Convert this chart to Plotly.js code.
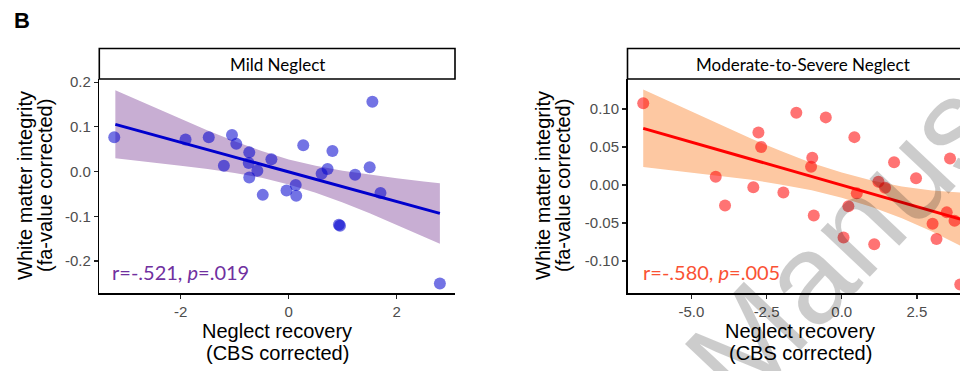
<!DOCTYPE html>
<html>
<head>
<meta charset="utf-8">
<script src="https://cdn.plot.ly/plotly-3.0.1.min.js"></script>
<style>
html,body{margin:0;padding:0;overflow:hidden;background:#fff;}
#chart{width:1000px;height:371px;}
</style>
</head>
<body>
<div id="chart"></div>
<script>
// ---- Data ----
// Panel 1: Mild Neglect
const mildX = [-3.23,-1.91,-1.48,-1.05,-0.97,-1.20,-0.73,-0.74,-0.73,-0.58,-0.48,-0.32,-0.04,0.13,0.14,0.27,0.61,0.72,0.81,0.93,0.95,1.23,1.50,1.55,1.70,2.80];
const mildY = [0.077,0.072,0.077,0.082,0.062,0.013,0.043,0.019,-0.013,0.002,-0.052,0.0275,-0.042,-0.030,-0.054,0.059,-0.005,0.006,0.046,-0.119,-0.121,-0.007,0.010,0.156,-0.048,-0.250];
const mildFitX = [-3.21,-2.5,-2,-1.5,-1,-0.5,0,0.5,1,1.5,2,2.5,2.8];
const mildFitY = [0.1056,0.0821,0.0655,0.0490,0.0324,0.0159,-0.0007,-0.0172,-0.0338,-0.0503,-0.0669,-0.0834,-0.0933];
const mildHi  = [0.182,0.144,0.118,0.092,0.068,0.046,0.027,0.013,0.002,-0.007,-0.015,-0.022,-0.026];
const mildLo  = [0.030,0.020,0.013,0.006,-0.003,-0.014,-0.029,-0.047,-0.069,-0.093,-0.119,-0.145,-0.161];
const mildStat = 'r=-.521, <i>p</i>=.019';
const mildTitle = 'Mild Neglect';

// Panel 2: Moderate-to-Severe Neglect
const sevX = [-6.60,-4.19,-3.88,-2.94,-2.77,-2.68,-1.94,-1.51,-0.98,-1.02,-0.93,-0.53,0.06,0.22,0.42,0.50,1.08,1.22,1.44,1.74,2.47,3.02,3.15,3.49,3.60,3.75,3.94];
const sevY = [0.1075,0.011,-0.027,-0.003,0.069,0.050,-0.010,0.095,0.036,0.024,-0.040,0.089,-0.069,-0.028,0.063,-0.011,-0.078,0.0044,-0.0035,0.030,0.0088,-0.051,-0.071,-0.036,0.035,-0.047,-0.131];
const sevFitX = [-6.6,-5,-4,-3,-2,-1,0,1,2,3,3.94];
const sevFitY = [0.0746,0.0565,0.0451,0.0338,0.0225,0.0111,-0.0002,-0.0115,-0.0229,-0.0342,-0.0448];
const sevHi  = [0.1256,0.0965,0.0786,0.0608,0.0445,0.0291,0.0163,0.0060,-0.0019,-0.0072,-0.0098];
const sevLo  = [0.0236,0.0165,0.0116,0.0068,0.0005,-0.0069,-0.0167,-0.0290,-0.0439,-0.0612,-0.0798];
const sevStat = 'r=-.580, <i>p</i>=.005';
const sevTitle = 'Moderate-to-Severe Neglect';

const mildTickVals = [-2,0,2];
const mildTickText = ['-2','0','2'];
const mildYTickVals = [0.2,0.1,0,-0.1,-0.2];
const mildYTickText = ['0.2','0.1','0.0','-0.1','-0.2'];
const sevTickVals = [-5,-2.5,0,2.5,5];
const sevTickText = ['-5.0','-2.5','0.0','2.5','5.0'];
const sevYTickVals = [0.10,0.05,0,-0.05,-0.10];
const sevYTickText = ['0.10','0.05','0.00','-0.05','-0.10'];

const yTitle1 = 'White matter integrity';
const yTitle2 = '(fa-value corrected)';
const xTitle1 = 'Neglect recovery';
const xTitle2 = '(CBS corrected)';
const watermark = 'Manuscript';

// ---- Layout helpers ----
const W = 1000, H = 371;
const px = v => v / W;
const py = v => (H - v) / H;
const ARIAL = 'Arial, "Liberation Sans", sans-serif';
const CAL = 'Lato, "Open Sans", sans-serif';

function ribbon(xs, hi, lo, color, xa, ya) {
  return {
    x: xs.concat(xs.slice().reverse()),
    y: hi.concat(lo.slice().reverse()),
    type: 'scatter', mode: 'lines', fill: 'toself',
    fillcolor: color, line: {width: 0, color: color},
    xaxis: xa, yaxis: ya, hoverinfo: 'skip', showlegend: false
  };
}

const traces = [
  ribbon(mildFitX, mildHi, mildLo, '#c8aed3', 'x', 'y'),
  {x: mildFitX, y: mildFitY, type: 'scatter', mode: 'lines', line: {color: '#0000cd', width: 3}, xaxis: 'x', yaxis: 'y', showlegend: false},
  {x: mildX, y: mildY, type: 'scatter', mode: 'markers', marker: {size: 12, color: 'rgba(0,0,205,0.55)', line: {width: 0}}, xaxis: 'x', yaxis: 'y', showlegend: false},
  ribbon(sevFitX, sevHi, sevLo, '#fdc8a2', 'x2', 'y2'),
  {x: sevFitX, y: sevFitY, type: 'scatter', mode: 'lines', line: {color: '#ff0000', width: 3}, xaxis: 'x2', yaxis: 'y2', showlegend: false},
  {x: sevX, y: sevY, type: 'scatter', mode: 'markers', marker: {size: 12, color: 'rgba(255,0,0,0.55)', line: {width: 0}}, xaxis: 'x2', yaxis: 'y2', showlegend: false}
];

const axisCommon = {
  showline: true, linecolor: '#000', linewidth: 1.5,
  ticks: 'outside', ticklen: 4, tickwidth: 1.2, tickcolor: '#222',
  showgrid: false, zeroline: false, mirror: false,
  tickfont: {family: ARIAL, size: 15, color: '#4d4d4d'},
  tickmode: 'array', fixedrange: true
};

const plotTop = 79, plotBot = 293.3, stripTop = 48.5;
const L1 = 99.3, R1 = 455, L2 = 627.5, R2 = 978;

const layout = {
  width: W, height: H,
  margin: {l: 0, r: 0, t: 0, b: 0},
  paper_bgcolor: '#fff', plot_bgcolor: 'rgba(0,0,0,0)',
  showlegend: false,
  xaxis: Object.assign({}, axisCommon, {domain: [px(L1), px(R1)], range: [-3.507, 3.08], anchor: 'y', tickvals: mildTickVals, ticktext: mildTickText}),
  yaxis: Object.assign({}, axisCommon, {domain: [py(plotBot), py(plotTop)], range: [-0.272, 0.207], anchor: 'x', tickvals: mildYTickVals, ticktext: mildYTickText}),
  xaxis2: Object.assign({}, axisCommon, {domain: [px(L2), px(R2)], range: [-7.123, 4.53], anchor: 'y2', tickvals: sevTickVals, ticktext: sevTickText}),
  yaxis2: Object.assign({}, axisCommon, {domain: [py(plotBot), py(plotTop)], range: [-0.1425, 0.1395], anchor: 'x2', tickvals: sevYTickVals, ticktext: sevYTickText}),
  shapes: [
    {type: 'rect', xref: 'paper', yref: 'paper', x0: px(L1), x1: px(R1), y0: py(plotTop), y1: py(stripTop), line: {color: '#000', width: 1.6}, fillcolor: '#fff'},
    {type: 'rect', xref: 'paper', yref: 'paper', x0: px(L2), x1: px(R2), y0: py(plotTop), y1: py(stripTop), line: {color: '#000', width: 1.6}, fillcolor: '#fff'}
  ],
  annotations: [
    {text: '<b>B</b>', x: px(22), y: py(21), xref: 'paper', yref: 'paper', showarrow: false, xanchor: 'center', yanchor: 'middle', font: {family: ARIAL, size: 22, color: '#000'}},
    {text: mildTitle, x: px((L1 + R1) / 2), y: py(64), xref: 'paper', yref: 'paper', showarrow: false, xanchor: 'center', yanchor: 'middle', font: {family: CAL, size: 17, color: '#000'}},
    {text: sevTitle, x: px((L2 + R2) / 2), y: py(64), xref: 'paper', yref: 'paper', showarrow: false, xanchor: 'center', yanchor: 'middle', font: {family: CAL, size: 17, color: '#000'}},
    {text: yTitle1, x: px(25), y: py(186), xref: 'paper', yref: 'paper', showarrow: false, textangle: -90, xanchor: 'center', yanchor: 'middle', font: {family: ARIAL, size: 20, color: '#000'}},
    {text: yTitle2, x: px(45), y: py(186), xref: 'paper', yref: 'paper', showarrow: false, textangle: -90, xanchor: 'center', yanchor: 'middle', font: {family: ARIAL, size: 20, color: '#000'}},
    {text: yTitle1, x: px(543), y: py(186), xref: 'paper', yref: 'paper', showarrow: false, textangle: -90, xanchor: 'center', yanchor: 'middle', font: {family: ARIAL, size: 20, color: '#000'}},
    {text: yTitle2, x: px(563), y: py(186), xref: 'paper', yref: 'paper', showarrow: false, textangle: -90, xanchor: 'center', yanchor: 'middle', font: {family: ARIAL, size: 20, color: '#000'}},
    {text: xTitle1, x: px(277), y: py(331), xref: 'paper', yref: 'paper', showarrow: false, xanchor: 'center', yanchor: 'middle', font: {family: ARIAL, size: 20, color: '#000'}},
    {text: xTitle2, x: px(277), y: py(353), xref: 'paper', yref: 'paper', showarrow: false, xanchor: 'center', yanchor: 'middle', font: {family: ARIAL, size: 20, color: '#000'}},
    {text: xTitle1, x: px(800), y: py(331), xref: 'paper', yref: 'paper', showarrow: false, xanchor: 'center', yanchor: 'middle', font: {family: ARIAL, size: 20, color: '#000'}},
    {text: xTitle2, x: px(800), y: py(353), xref: 'paper', yref: 'paper', showarrow: false, xanchor: 'center', yanchor: 'middle', font: {family: ARIAL, size: 20, color: '#000'}},
    {text: mildStat, x: px(110), y: py(272), xref: 'paper', yref: 'paper', showarrow: false, xanchor: 'left', yanchor: 'middle', font: {family: CAL, size: 20, color: '#7030a0'}},
    {text: sevStat, x: px(641), y: py(272), xref: 'paper', yref: 'paper', showarrow: false, xanchor: 'left', yanchor: 'middle', font: {family: CAL, size: 20, color: '#fa5234'}},
    {text: watermark, x: px(924), y: py(154), xref: 'paper', yref: 'paper', showarrow: false, textangle: -46.6, xanchor: 'center', yanchor: 'middle', font: {family: ARIAL, size: 128, color: 'rgba(0,0,0,0.2)'}}
  ]
};

Plotly.newPlot('chart', traces, layout, {staticPlot: true, displayModeBar: false});
</script>
</body>
</html>
